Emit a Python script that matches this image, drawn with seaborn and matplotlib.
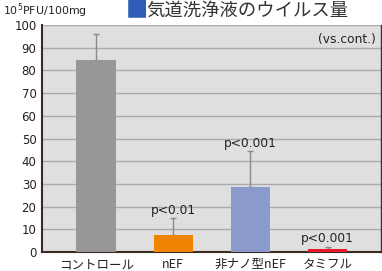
import matplotlib
matplotlib.use("Agg")
import matplotlib.pyplot as plt
import seaborn as sns
import pandas as pd

categories = ["コントロール", "nEF", "非ナノ型nEF", "タミフル"]
values = [84.6, 7.6, 28.5, 1.4]
err_upper = [11.4, 7.2, 16.0, 1.0]
pvals = ["", "p<0.01", "p<0.001", "p<0.001"]
colors = ["#979797", "#F08300", "#8A9ACB", "#E8192C"]
yticks = [0, 10, 20, 30, 40, 50, 60, 70, 80, 90, 100]

sns.set_theme(style="white")
plt.rcParams['font.family'] = ['Noto Sans CJK JP', 'DejaVu Sans']

fig = plt.figure(figsize=(3.82, 2.71), dpi=100)
ax = fig.add_axes([42/382, 19/271, 339/382, 227/271])
ax.set_facecolor("#DFDFDF")
fig.patch.set_facecolor("white")

df = pd.DataFrame({"cat": categories, "val": values})
sns.barplot(data=df, x="cat", y="val", hue="cat", palette=colors, width=0.51,
            legend=False, ax=ax, saturation=1, zorder=3, linewidth=0)

ax.errorbar(range(len(categories)), values, yerr=[[0]*4, err_upper], fmt="none",
            ecolor="#8A8A8A", elinewidth=1.0, capsize=2.5, capthick=1.0, zorder=2)

for i, (v, e, p) in enumerate(zip(values, err_upper, pvals)):
    if p:
        ax.text(i, v + e + 0.5, p, ha="center", va="bottom", fontsize=8.8,
                color="#222222", family=['DejaVu Sans'])

ax.set_ylim(0, 100)
ax.set_xlim(-0.7, 3.69)
ax.set_yticks(yticks)
ax.yaxis.grid(True, color="#AAAAAA", linewidth=1.0, zorder=0)
ax.set_axisbelow(True)
ax.set_xlabel("")
ax.set_ylabel("")
ax.tick_params(axis="y", labelsize=8.5, length=0, pad=4)
ax.tick_params(axis="x", labelsize=9, length=0, pad=4.5)
for lbl in ax.get_xticklabels():
    lbl.set_color("#222222")
for lbl in ax.get_yticklabels():
    lbl.set_color("#222222")
    lbl.set_family(['DejaVu Sans'])

for s in ["left", "bottom"]:
    ax.spines[s].set_color("#3A2A22")
    ax.spines[s].set_linewidth(1.5)
    ax.spines[s].set_zorder(2.5)
ax.spines["right"].set_color("#333333")
ax.spines["right"].set_linewidth(1.0)
ax.spines["top"].set_visible(False)

ax.text(0.985, 0.965, "(vs.cont.)", transform=ax.transAxes, ha="right", va="top",
        fontsize=8.8, color="#222222", family=['DejaVu Sans'])

fig.text(3/382, 1 - 11/271, r"10$^5$PFU/100mg", ha="left", va="center",
         fontsize=7.9, color="#222222", family=['DejaVu Sans'])
fig.text(126/382, 1 - 10/271, "■", ha="left", va="center", fontsize=16, color="#2F5DB5")
fig.text(146/382, 1 - 11/271, "気道洗浄液のウイルス量", ha="left", va="center",
         fontsize=13.2, color="#333333")

fig.savefig("out.png", dpi=100)
